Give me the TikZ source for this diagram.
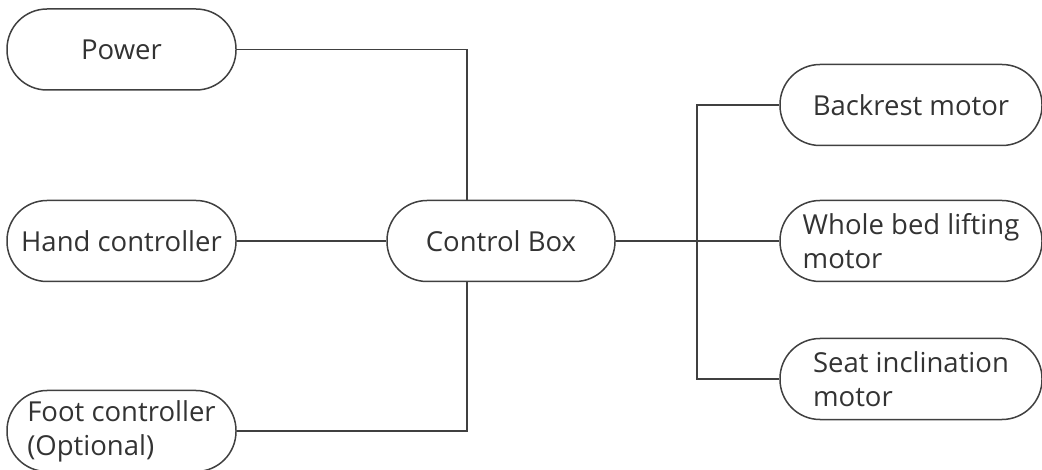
\documentclass[tikz,border=0pt]{standalone}
\usepackage{fontspec}
\setmainfont{Open Sans}
\usepackage{tikz}
\usetikzlibrary{positioning}
\colorlet{linec}{black!75}
\colorlet{textc}{black!80}

\tikzset{
  pill/.style={draw=linec, line width=1.5pt, shape=rectangle, rounded corners=40pt,
    inner sep=0pt, align=left, text=textc, font=\fontsize{27.5}{34}\selectfont,
    minimum height=81pt, minimum width=229pt},
  wire/.style={draw=linec, line width=1.5pt}
}

\begin{document}
\begin{tikzpicture}[x=1pt,y=-1pt]
\useasboundingbox (0,0) rectangle (1042,470);

% left side
\node[pill] (power) at (121.5,49.5) {Power};
\node[pill] (hand) at (121.5,241) {Hand controller};
\node[pill] (foot) at (121.5,431) {Foot controller\\(Optional)};

\node[pill, minimum width=228pt] (cbox) at (501,241) {Control Box};

% right side
\node[pill, minimum width=262pt] (back) at (911,105) {Backrest motor};
\node[pill, minimum width=262pt] (whole) at (911,241) {Whole bed lifting\\motor};
\node[pill, minimum width=262pt] (seat) at (911,379) {Seat inclination\\motor};

\coordinate (busL) at (467,0);
\coordinate (busR) at (697,0);

\draw[wire] (power.east) -| (busL |- cbox.north);
\draw[wire] (hand.east) -- (cbox.west);
\draw[wire] (foot.east) -| (busL |- cbox.south);

\draw[wire] (cbox.east) -- (whole.west);
\draw[wire] (back.west) -| (busR |- seat.west) -- (seat.west);

\end{tikzpicture}
\end{document}
